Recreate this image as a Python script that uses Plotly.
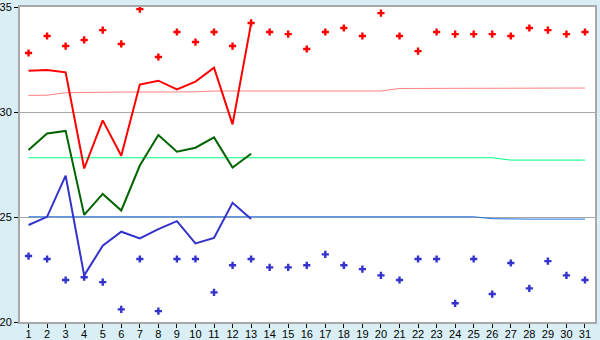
import plotly.graph_objects as go

days = list(range(1, 32))

max_marks = [32.81, 33.62, 33.14, 33.43, 33.90, 33.24, 34.90, 32.62, 33.81, 33.33,
             33.81, 33.14, 34.24, 33.81, 33.71, 33.00, 33.81, 34.00, 33.62, 34.71,
             33.62, 32.90, 33.81, 33.71, 33.71, 33.71, 33.62, 34.00, 33.90, 33.71, 33.81]
min_marks = [23.14, 23.00, 22.00, 22.13, 21.90, 20.60, 23.00, 20.52, 23.00, 23.00,
             21.41, 22.70, 23.00, 22.60, 22.60, 22.70, 23.22, 22.70, 22.52, 22.22,
             22.00, 23.00, 23.00, 20.89, 23.00, 21.33, 22.81, 21.60, 22.90, 22.22, 22.00]

line_days = list(range(1, 14))
max_line = [31.97, 32.00, 31.89, 27.31, 29.60, 27.92, 31.31, 31.49, 31.08, 31.45, 32.11, 29.41, 34.22]
mean_line = [28.19, 28.98, 29.10, 25.10, 26.10, 25.31, 27.45, 28.90, 28.11, 28.30, 28.79, 27.36, 28.01]
min_line = [24.62, 25.01, 26.97, 22.22, 23.63, 24.30, 23.98, 24.42, 24.80, 23.74, 24.00, 25.68, 24.90]

norm_max = [30.79, 30.80, 30.92, 30.94, 30.95, 30.95, 30.95, 30.95, 30.95, 30.96,
            31.00, 31.00, 31.00, 31.00, 31.00, 31.00, 31.00, 31.00, 31.00, 31.00,
            31.12, 31.13, 31.13, 31.13, 31.13, 31.13, 31.14, 31.14, 31.14, 31.14, 31.14]
norm_mean = [27.82] * 26 + [27.71] * 5
norm_min = [25.01] * 25 + [24.92] + [24.90] * 5

fig = go.Figure()
fig.add_trace(go.Scatter(x=days, y=norm_max, mode="lines", line=dict(color="#FF8080", width=1), hoverinfo="skip"))
fig.add_trace(go.Scatter(x=days, y=norm_mean, mode="lines", line=dict(color="#00FF80", width=1), hoverinfo="skip"))
fig.add_trace(go.Scatter(x=days, y=norm_min, mode="lines", line=dict(color="#1E70E0", width=1), hoverinfo="skip"))
fig.add_trace(go.Scatter(x=line_days, y=max_line, mode="lines", line=dict(color="#FF0000", width=2)))
fig.add_trace(go.Scatter(x=line_days, y=mean_line, mode="lines", line=dict(color="#006400", width=2)))
fig.add_trace(go.Scatter(x=line_days, y=min_line, mode="lines", line=dict(color="#3333CC", width=2)))
fig.add_trace(go.Scatter(x=days, y=max_marks, mode="markers",
                         marker=dict(symbol="cross", size=6, color="#FF0000", line=dict(width=0))))
fig.add_trace(go.Scatter(x=days, y=min_marks, mode="markers",
                         marker=dict(symbol="cross", size=6, color="#3333CC", line=dict(width=0))))

fig.update_layout(
    width=600, height=340,
    margin=dict(l=20, r=5, t=7, b=18),
    paper_bgcolor="#D9EFF5", plot_bgcolor="#FFFFFF",
    showlegend=False,
    font=dict(family="Liberation Sans", size=11, color="#000000"),
)
fig.update_xaxes(range=[0.54, 31.54], tickvals=days, ticks="outside", ticklen=4,
                 tickcolor="#000000", tickwidth=1, showgrid=False, showline=True,
                 linecolor="#A8A8A8", linewidth=2, mirror=True, zeroline=False,
                 automargin=False, ticklabeloverflow="allow", ticklabelstandoff=-3,
                 tickfont=dict(size=11))
fig.update_yaxes(range=[20, 35], tickvals=[20, 25, 30, 35], ticks="outside", ticklen=4,
                 tickcolor="#000000", tickwidth=1, showgrid=True, gridcolor="#A8A8A8", gridwidth=1,
                 showline=True, linecolor="#A8A8A8", linewidth=2, mirror=True, zeroline=False,
                 automargin=False, ticklabeloverflow="allow", tickfont=dict(size=11))

fig.write_html("out.html")
